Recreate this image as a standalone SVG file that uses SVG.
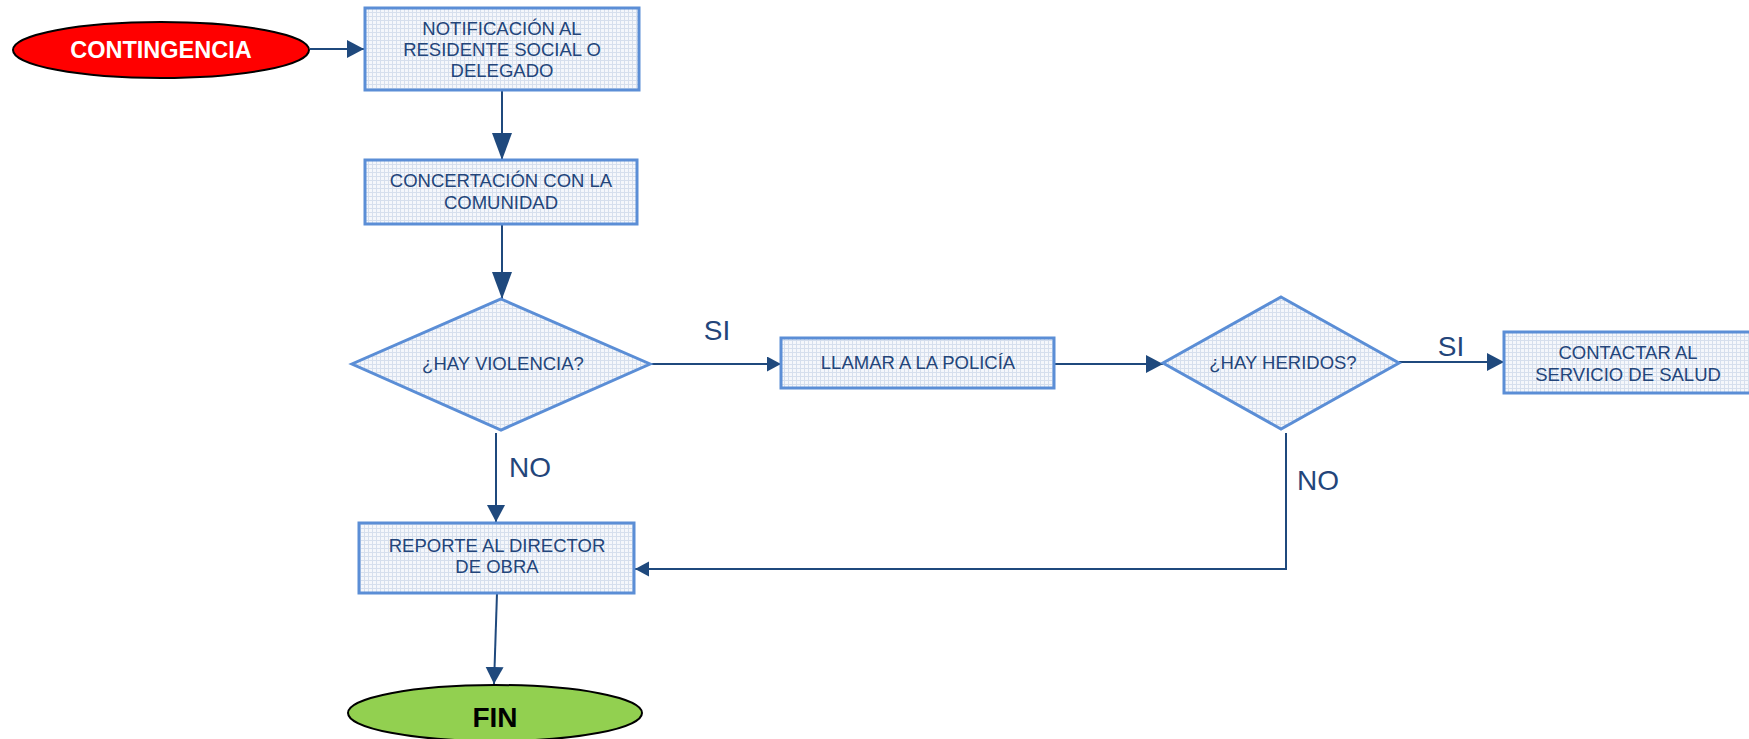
<svg xmlns="http://www.w3.org/2000/svg" width="1749" height="739" viewBox="0 0 1749 739">
<style>
.box{fill:url(#grid);stroke:#5b8ed6;stroke-width:3}
.term{stroke:#000;stroke-width:2}
.t{font-family:"Liberation Sans",Arial,sans-serif;font-size:18.5px;fill:#23457a;text-anchor:middle}
.lbl{font-family:"Liberation Sans",Arial,sans-serif;font-size:28px;fill:#23457a;text-anchor:middle}
.tb{font-family:"Liberation Sans",Arial,sans-serif;font-weight:bold;text-anchor:middle}
.c{fill:none;stroke:#1f497d;stroke-width:2}
</style>
<defs>
<pattern id="grid" width="4" height="4" patternUnits="userSpaceOnUse">
<rect width="4" height="4" fill="#f5f7fb"/>
<path d="M0 0.5H4M0.5 0V4" stroke="#d6dfed" stroke-width="1"/>
</pattern>
<marker id="aBig" markerUnits="userSpaceOnUse" markerWidth="28" markerHeight="22" refX="27" refY="10" orient="auto">
<path d="M0 0L27 10L0 20Z" fill="#1f497d"/>
</marker>
<marker id="aMed" markerUnits="userSpaceOnUse" markerWidth="18" markerHeight="20" refX="17" refY="9" orient="auto">
<path d="M0 0L17 9L0 18Z" fill="#1f497d"/>
</marker>
<marker id="aSm" markerUnits="userSpaceOnUse" markerWidth="15" markerHeight="16" refX="14" refY="7.5" orient="auto">
<path d="M0 0L14 7.5L0 15Z" fill="#1f497d"/>
</marker>
</defs>
<rect width="1749" height="739" fill="#fff"/>

<g id="connectors">
<line class="c" x1="310" y1="49" x2="364" y2="49" marker-end="url(#aMed)"/>
<line class="c" x1="502" y1="90" x2="502" y2="160" marker-end="url(#aBig)"/>
<line class="c" x1="502" y1="224" x2="502" y2="299" marker-end="url(#aBig)"/>
<line class="c" x1="650" y1="364" x2="781" y2="364" marker-end="url(#aSm)"/>
<line class="c" x1="1054" y1="364" x2="1163" y2="364" marker-end="url(#aMed)"/>
<line class="c" x1="1399" y1="362" x2="1504" y2="362" marker-end="url(#aMed)"/>
<polyline class="c" points="1286,433 1286,569 635,569" marker-end="url(#aSm)"/>
<line class="c" x1="496" y1="433" x2="496" y2="522" marker-end="url(#aMed)"/>
<line class="c" x1="497" y1="593" x2="494" y2="684" marker-end="url(#aMed)"/>
<text class="lbl" x="717" y="340">SI</text>
<text class="lbl" x="1451" y="356">SI</text>
<text class="lbl" x="530" y="477">NO</text>
<text class="lbl" x="1318" y="490">NO</text>
</g>

<g id="contingencia">
<ellipse class="term" cx="161" cy="50" rx="148" ry="28" fill="#ff0000"/>
<text class="tb" x="161" y="58" font-size="23.5" fill="#fff">CONTINGENCIA</text>
</g>

<g id="notificacion">
<rect class="box" x="365" y="8" width="274" height="82"/>
<text class="t" x="502" y="35">NOTIFICACIÓN AL</text>
<text class="t" x="502" y="56">RESIDENTE SOCIAL O</text>
<text class="t" x="502" y="77">DELEGADO</text>
</g>

<g id="concertacion">
<rect class="box" x="365" y="160" width="272" height="64"/>
<text class="t" x="501" y="187">CONCERTACIÓN CON LA</text>
<text class="t" x="501" y="209">COMUNIDAD</text>
</g>

<g id="violencia">
<polygon class="box" points="501,299 650,364 501,430 352,364"/>
<text class="t" x="503" y="370">¿HAY VIOLENCIA?</text>
</g>

<g id="policia">
<rect class="box" x="781" y="338" width="273" height="50"/>
<text class="t" x="918" y="369">LLAMAR A LA POLICÍA</text>
</g>

<g id="heridos">
<polygon class="box" points="1281,297 1399,363 1281,429 1163,363"/>
<text class="t" x="1283" y="369">¿HAY HERIDOS?</text>
</g>

<g id="salud">
<rect class="box" x="1504" y="332" width="250" height="61"/>
<text class="t" x="1628" y="359">CONTACTAR AL</text>
<text class="t" x="1628" y="381">SERVICIO DE SALUD</text>
</g>

<g id="reporte">
<rect class="box" x="359" y="523" width="275" height="70"/>
<text class="t" x="497" y="552" font-size="20">REPORTE AL DIRECTOR</text>
<text class="t" x="497" y="573" font-size="20">DE OBRA</text>
</g>

<g id="fin">
<ellipse class="term" cx="495" cy="713" rx="147" ry="28" fill="#92d050"/>
<text class="tb" x="495" y="727" font-size="28" fill="#000">FIN</text>
</g>
</svg>
